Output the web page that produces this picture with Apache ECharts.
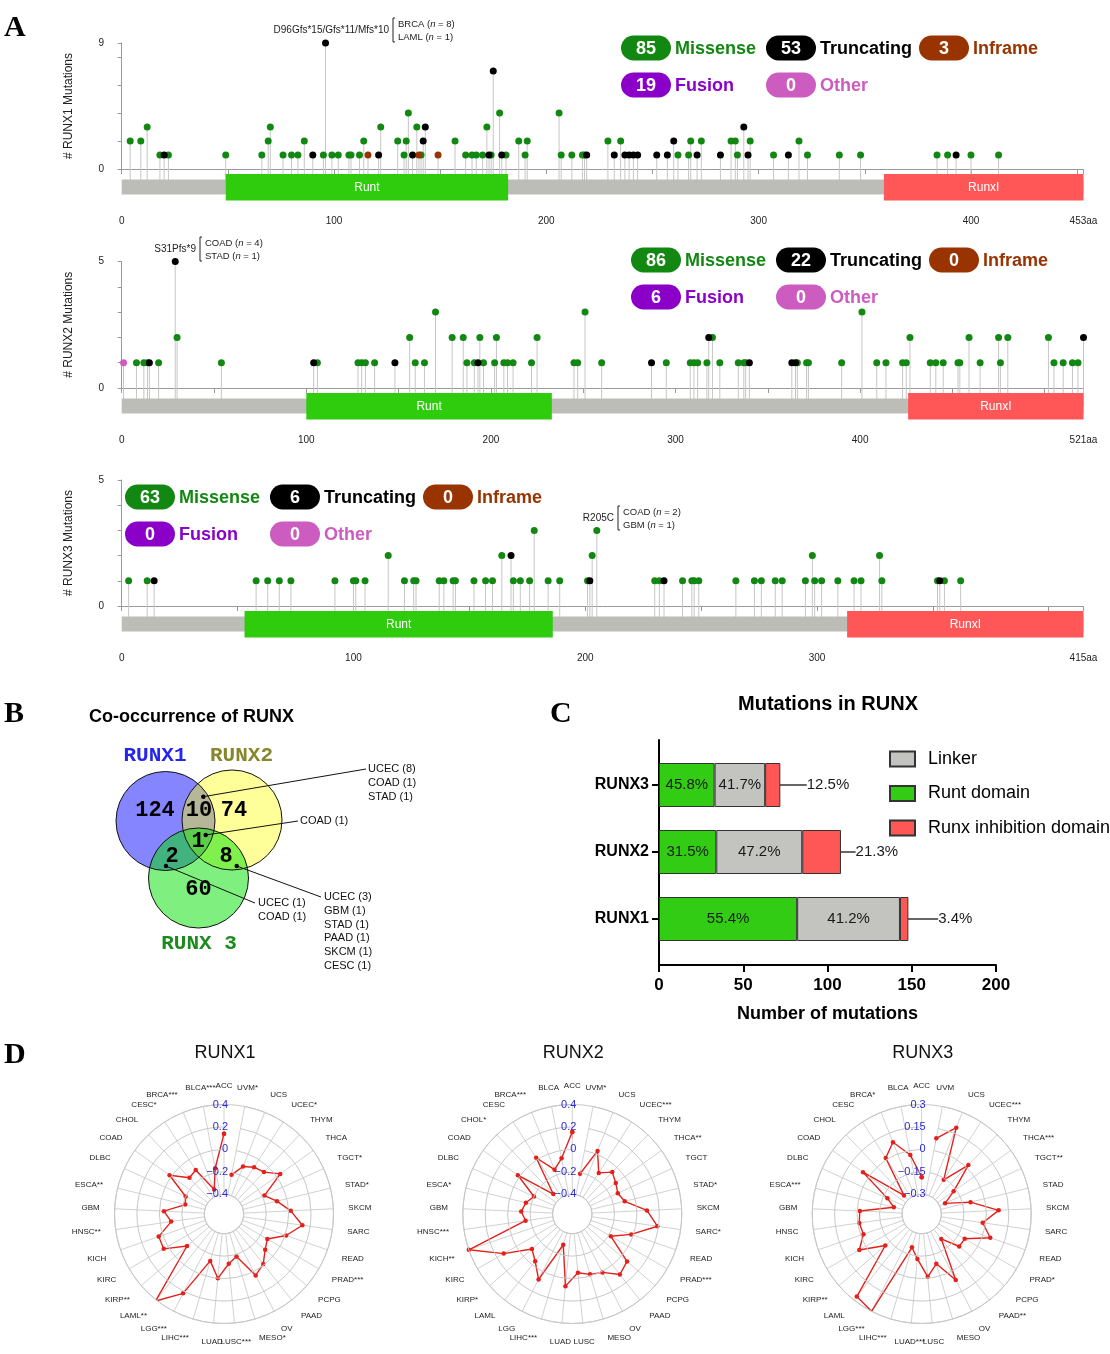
<!DOCTYPE html>
<html><head><meta charset="utf-8">
<script src="https://cdn.jsdelivr.net/npm/echarts@6/dist/echarts.min.js"></script>
<style>html,body{margin:0;padding:0;background:#fff}#c{width:1110px;height:1354px}</style>
</head><body><div id="c"></div>
<script>
// ---------------- DATA ----------------
const proteins = ['RUNX1', 'RUNX2', 'RUNX3'];
const proteinLength = [453, 521, 415];
const runtDomain = [[49, 182], [100, 233], [53, 186]];
const runxIDomain = [[359, 453], [426, 521], [313, 415]];
const countAxisMax = [9, 5, 5];

// [amino-acid position, number of mutations]
const runx1Missense = [[4,2],[9,2],[12,3],[18,1],[22,1],[49,1],[66,1],[69,2],[70,3],[76,1],[80,1],[83,1],[86,2],[95,1],[99,1],[102,1],[107,1],[108,1],[112,1],[114,2],[122,3],[130,2],[133,1],[134,2],[135,4],[139,3],[141,1],[157,2],[162,1],[165,1],[167,1],[170,1],[172,3],[174,1],[178,4],[181,1],[187,2],[190,1],[191,2],[206,4],[207,1],[212,1],[217,1],[218,1],[229,2],[235,2],[262,1],[267,1],[268,2],[273,2],[287,2],[289,2],[290,1],[296,2],[307,1],[319,2],[323,1],[338,1],[348,1],[384,1],[389,1],[400,1],[413,1]];
const runx1Truncating = [[20,1],[90,1],[96,9],[121,1],[137,1],[142,2],[143,3],[173,1],[175,7],[179,1],[219,1],[232,1],[237,1],[239,1],[241,1],[243,1],[252,1],[257,1],[260,2],[271,1],[282,1],[293,3],[295,1],[314,1],[393,1]];
const runx1Inframe = [[116,1],[140,1],[149,1]];
const runx1Other = [];

const runx2Missense = [[8,1],[12,1],[14,1],[20,1],[30,2],[54,1],[106,1],[128,1],[130,1],[132,1],[137,1],[156,2],[159,1],[164,1],[170,3],[179,2],[185,2],[187,1],[191,1],[194,2],[196,1],[202,1],[203,2],[207,1],[209,1],[212,1],[222,1],[225,2],[245,1],[247,1],[251,3],[260,1],[295,1],[308,1],[310,1],[312,1],[317,1],[320,2],[324,1],[334,1],[337,1],[338,1],[366,1],[371,1],[372,1],[390,1],[401,3],[409,1],[414,1],[423,1],[425,1],[427,2],[438,1],[441,1],[445,1],[453,1],[454,1],[459,2],[465,1],[475,2],[476,1],[480,2],[502,2],[505,1],[510,1],[515,1],[518,1]];
const runx2Truncating = [[15,1],[29,5],[104,1],[148,1],[193,1],[287,1],[318,2],[340,1],[363,1],[365,1],[521,2]];
const runx2Inframe = [];
const runx2Other = [[1,1]];

const runx3Missense = [[3,1],[11,1],[58,1],[63,1],[68,1],[73,1],[92,1],[100,1],[101,1],[105,1],[115,2],[122,1],[126,1],[127,1],[137,1],[139,1],[143,1],[144,1],[152,1],[157,1],[160,1],[164,2],[169,1],[172,1],[176,1],[178,3],[184,1],[189,1],[201,1],[203,2],[205,3],[230,1],[232,1],[242,1],[246,1],[247,1],[249,1],[265,1],[273,1],[276,1],[282,1],[285,1],[295,1],[298,2],[299,1],[302,1],[309,1],[316,1],[319,1],[327,2],[328,1],[352,1],[355,1],[362,1]];
const runx3Truncating = [[14,1],[168,2],[202,1],[234,1],[353,1]];
const runx3Inframe = [];
const runx3Other = [];

const badgeTypes = ['Missense', 'Truncating', 'Inframe', 'Fusion', 'Other'];
const runx1BadgeCounts = [85, 53, 3, 19, 0];
const runx2BadgeCounts = [86, 22, 0, 6, 0];
const runx3BadgeCounts = [63, 6, 0, 0, 0];

const hotspotLabels = ['D96Gfs*15/Gfs*11/Mfs*10', 'S31Pfs*9', 'R205C'];
const hotspotCancers = [[['BRCA', 8], ['LAML', 1]], [['COAD', 4], ['STAD', 1]], [['COAD', 2], ['GBM', 1]]];

// Venn (panel B)
const vennRegions = ['RUNX1', 'RUNX1&RUNX2', 'RUNX2', 'RUNX1&RUNX2&RUNX3', 'RUNX1&RUNX3', 'RUNX2&RUNX3', 'RUNX3'];
const vennCounts = [124, 10, 74, 1, 2, 8, 60];
const vennNotes12 = ['UCEC (8)', 'COAD (1)', 'STAD (1)'];
const vennNotes123 = ['COAD (1)'];
const vennNotes13 = ['UCEC (1)', 'COAD (1)'];
const vennNotes23 = ['UCEC (3)', 'GBM (1)', 'STAD (1)', 'PAAD (1)', 'SKCM (1)', 'CESC (1)'];

// Bar chart (panel C)
const barCategories = ['RUNX1', 'RUNX2', 'RUNX3'];
const runtCounts = [82, 34, 33];
const linkerCounts = [61, 51, 30];
const runxICounts = [5, 23, 9];

// Radar (panel D)
const cancerTypes = ['ACC','BLCA','BRCA','CESC','CHOL','COAD','DLBC','ESCA','GBM','HNSC','KICH','KIRC','KIRP','LAML','LGG','LIHC','LUAD','LUSC','MESO','OV','PAAD','PCPG','PRAD','READ','SARC','SKCM','STAD','TGCT','THCA','THYM','UCEC','UCS','UVM'];
const runx1Stars = ['','***','***','*','','','','**','','**','','','**','**','***','***','','***','*','','','','***','','','','*','*','','','*','','*'];
const runx2Stars = ['','','***','','*','','','*','','***','**','','*','','','***','','','','','','','***','','*','','*','','**','','***','','*'];
const runx3Stars = ['','','*','','','','','***','','','','','**','','***','***','***','','','','**','','*','','','','','**','***','','***','',''];
const runx1Corr = [0.14,-0.16,-0.34,-0.11,-0.13,0.02,-0.20,-0.22,-0.04,-0.10,0.04,0.045,-0.14,0.41,0.22,-0.14,0.0,-0.13,-0.18,0.04,-0.01,-0.09,-0.13,0.01,0.13,0.02,-0.09,-0.18,0.04,-0.06,-0.08,-0.12,-0.22];
const runx2Corr = [0.155,-0.07,-0.15,0.02,-0.33,0.02,-0.20,-0.15,-0.12,-0.155,0.40,0.13,-0.10,-0.04,0.08,-0.29,0.07,-0.05,-0.015,0.01,0.11,0.07,-0.18,-0.02,0.19,0.09,-0.095,-0.13,-0.10,-0.06,-0.14,0.03,-0.21];
const runx3Corr = [-0.186,-0.03,0.085,0.013,-0.26,0.05,-0.18,-0.24,-0.018,-0.01,-0.02,0.05,-0.11,0.27,0.30,-0.20,-0.13,-0.01,-0.085,0.065,-0.22,-0.10,-0.10,0.053,-0.02,0.083,-0.096,-0.26,-0.17,0.02,-0.16,0.19,0.083];
const radarRange = [[-0.4, 0.4, 0.2], [-0.4, 0.4, 0.2], [-0.3, 0.3, 0.15]];

// ---------------- STYLE / LAYOUT ----------------
const SANS = '"Liberation Sans", Arial, Helvetica, sans-serif';
const SERIF = '"Liberation Serif", "Times New Roman", serif';
const MONO = '"Liberation Mono", "Courier New", monospace';
const typeColors = ['#128812', '#000000', '#993300', '#8a00c8', '#cc5cbf'];
const lolliLayout = [
  {top: 43, height: 126, badgeX: 621, badgeY: 48},
  {top: 261.5, height: 126.5, badgeX: 631, badgeY: 260},
  {top: 480, height: 126, badgeX: 125, badgeY: 497}
];
const mutSets = [
  [runx1Missense, runx1Truncating, runx1Inframe, runx1Other],
  [runx2Missense, runx2Truncating, runx2Inframe, runx2Other],
  [runx3Missense, runx3Truncating, runx3Inframe, runx3Other]
];
const badgeSets = [runx1BadgeCounts, runx2BadgeCounts, runx3BadgeCounts];

const grid = [], xAxis = [], yAxis = [], series = [], graphic = [];

proteins.forEach(function (name, k) {
  const L = proteinLength[k], lay = lolliLayout[k];
  grid.push({left: 121.7, width: 961.8, top: lay.top, height: lay.height});
  const ticks = [];
  for (let v = 0; v < L; v += 50) ticks.push(v);
  ticks.push(L);
  const labels = [];
  for (let v = 0; v < L - 40; v += 100) labels.push(v);
  labels.push(L);
  xAxis.push({gridIndex: k, type: 'value', min: 0, max: L, position: 'bottom', offset: 37,
    axisLine: {lineStyle: {color: '#9a9a9a', width: 1}},
    axisTick: {customValues: ticks, length: 5, lineStyle: {color: '#9a9a9a'}},
    axisLabel: {customValues: labels, fontSize: 10, color: '#222', fontFamily: SANS, margin: 10,
      formatter: function (v) { return v === L ? v + 'aa' : String(v); }},
    splitLine: {show: false}});
  const M = countAxisMax[k];
  const yt = [];
  if (M === 9) { yt.push(0, 2, 4, 6, 8, 9); } else { for (let v = 0; v <= M; v++) yt.push(v); }
  yAxis.push({gridIndex: k, type: 'value', min: 0, max: M, offset: 11.7,
    name: '# ' + name + ' Mutations', nameLocation: 'middle', nameGap: 35,
    nameTextStyle: {fontSize: 12, color: '#222', fontFamily: SANS},
    axisLine: {show: true, lineStyle: {color: '#9a9a9a'}},
    axisTick: {show: true, customValues: yt, length: 4, lineStyle: {color: '#9a9a9a'}},
    axisLabel: {customValues: [0, M], fontSize: 10, color: '#222', fontFamily: SANS, margin: 6},
    splitLine: {show: false}});

  const all = [].concat(mutSets[k][0], mutSets[k][1], mutSets[k][2], mutSets[k][3]);
  series.push({type: 'custom', xAxisIndex: k, yAxisIndex: k, clip: false, z: 1, silent: true,
    data: all,
    renderItem: function (params, api) {
      const p = api.coord([api.value(0), api.value(1)]);
      const b = api.coord([api.value(0), 0]);
      return {type: 'line', shape: {x1: p[0], y1: b[1] + 18, x2: p[0], y2: p[1]},
        style: {stroke: '#c6c6c6', lineWidth: 1}};
    }});
  const domains = [[0, L, 0], [runtDomain[k][0], runtDomain[k][1], 1], [runxIDomain[k][0], runxIDomain[k][1], 2]];
  series.push({type: 'custom', xAxisIndex: k, yAxisIndex: k, clip: false, z: 2, silent: true,
    data: domains, encode: {x: [0, 1]},
    renderItem: function (params, api) {
      const s = api.coord([api.value(0), 0]);
      const e = api.coord([api.value(1), 0]);
      const kind = api.value(2);
      if (kind === 0) {
        return {type: 'rect', shape: {x: s[0], y: s[1] + 10.5, width: e[0] - s[0], height: 15},
          style: {fill: '#bdbdb8'}};
      }
      return {type: 'group', children: [
        {type: 'rect', shape: {x: s[0], y: s[1] + 5, width: e[0] - s[0], height: 26.5},
          style: {fill: kind === 1 ? '#2ecc0c' : '#ff5757'}},
        {type: 'text', x: (s[0] + e[0]) / 2, y: s[1] + 18.5,
          style: {text: kind === 1 ? 'Runt' : 'RunxI', fill: '#fff', font: '12px ' + SANS,
            align: 'center', verticalAlign: 'middle'}}
      ]};
    }});
  ['Missense', 'Truncating', 'Inframe', 'Other'].forEach(function (t, j) {
    const ci = j === 3 ? 4 : j;
    series.push({type: 'scatter', name: name + ' ' + t, xAxisIndex: k, yAxisIndex: k,
      data: mutSets[k][j], symbolSize: 7, z: 3, silent: true,
      itemStyle: {color: typeColors[ci], opacity: 1}});
  });

  // badges
  const cols = [0, 145, 298];
  badgeTypes.forEach(function (t, j) {
    const row = j < 3 ? 0 : 1;
    const col = j < 3 ? j : j - 3;
    const x = lay.badgeX + cols[col];
    const y = lay.badgeY + row * 37;
    graphic.push({type: 'rect', shape: {x: x, y: y - 12.5, width: 50, height: 25, r: 12.5},
      style: {fill: typeColors[j]}});
    graphic.push({type: 'text', x: x + 25, y: y + 1, style: {text: String(badgeSets[k][j]),
      fill: '#fff', font: 'bold 18px ' + SANS, align: 'center', verticalAlign: 'middle'}});
    graphic.push({type: 'text', x: x + 54, y: y + 1, style: {text: t,
      fill: typeColors[j], font: 'bold 18px ' + SANS, align: 'left', verticalAlign: 'middle'}});
  });
});

// hotspot annotations
const hotspotPos = [{x: 389, y: 30}, {x: 196, y: 249}, {x: 614, y: 518}];
hotspotLabels.forEach(function (lab, k) {
  const p = hotspotPos[k];
  graphic.push({type: 'text', x: p.x, y: p.y, style: {text: lab, fill: '#222', font: '10px ' + SANS,
    align: 'right', verticalAlign: 'middle'}});
  graphic.push({type: 'polyline', shape: {points: [[p.x + 6, p.y - 12], [p.x + 4, p.y - 12], [p.x + 4, p.y + 12], [p.x + 6, p.y + 12]]},
    style: {stroke: '#222', lineWidth: 1, fill: null}});
  hotspotCancers[k].forEach(function (c, i) {
    graphic.push({type: 'text', x: p.x + 9, y: p.y - 6 + i * 13, style: {
      text: '{a|' + c[0] + ' (}{i|n}{a| = ' + c[1] + ')}',
      rich: {a: {font: '9.5px ' + SANS, fill: '#222'}, i: {font: 'italic 9.5px ' + SANS, fill: '#222'}},
      verticalAlign: 'middle'}});
  });
});

// ---------------- Panel C (bar) ----------------
grid.push({left: 659, width: 337, top: 751.5, height: 201}); // 3
grid.push({left: 659, width: 337, top: 740, height: 225});   // 4
xAxis.push({gridIndex: 3, type: 'value', min: 0, max: 200, show: false});
yAxis.push({gridIndex: 3, type: 'category', data: barCategories,
  axisLine: {show: false}, axisTick: {show: true, alignWithLabel: true, length: 7, lineStyle: {color: '#000', width: 2}},
  axisLabel: {fontSize: 16, fontWeight: 'bold', color: '#000', fontFamily: SANS, margin: 10}});
xAxis.push({gridIndex: 4, type: 'value', min: 0, max: 200, interval: 50,
  name: 'Number of mutations', nameLocation: 'middle', nameGap: 40,
  nameTextStyle: {fontSize: 18, fontWeight: 'bold', color: '#000', fontFamily: SANS},
  axisLine: {lineStyle: {color: '#000', width: 2}},
  axisTick: {length: 7, lineStyle: {color: '#000', width: 2}},
  axisLabel: {fontSize: 17, fontWeight: 'bold', color: '#000', fontFamily: SANS, margin: 12},
  splitLine: {show: false}});
yAxis.push({gridIndex: 4, type: 'value', min: 0, max: 1,
  axisLine: {show: true, lineStyle: {color: '#000', width: 2}}, axisTick: {show: false},
  axisLabel: {show: false}, splitLine: {show: false}});

function pctFormatter() {
  return function (p) {
    const i = p.dataIndex;
    const tot = runtCounts[i] + linkerCounts[i] + runxICounts[i];
    return (p.value / tot * 100).toFixed(1) + '%';
  };
}
const barLabel = {show: true, position: 'inside', fontSize: 15, color: '#1a1a1a', fontFamily: SANS};
series.push({type: 'bar', name: 'Runt domain', xAxisIndex: 3, yAxisIndex: 3, stack: 'd', barWidth: 44,
  data: runtCounts, itemStyle: {color: '#33cc14', borderColor: '#333', borderWidth: 1},
  label: Object.assign({}, barLabel, {formatter: pctFormatter()})});
series.push({type: 'bar', name: 'Linker', xAxisIndex: 3, yAxisIndex: 3, stack: 'd', barWidth: 44,
  data: linkerCounts, itemStyle: {color: '#c3c3c0', borderColor: '#333', borderWidth: 1},
  label: Object.assign({}, barLabel, {formatter: pctFormatter()})});
series.push({type: 'bar', name: 'Runx inhibition domain', xAxisIndex: 3, yAxisIndex: 3, stack: 'd', barWidth: 44,
  data: runxICounts, itemStyle: {color: '#ff5656', borderColor: '#333', borderWidth: 1},
  label: Object.assign({}, barLabel, {formatter: pctFormatter()}),
  labelLayout: function (p) {
    return {x: p.rect.x + p.rect.width / 2 + 34, y: p.rect.y + p.rect.height / 2, align: 'left', verticalAlign: 'middle'};
  },
  labelLine: {show: true, lineStyle: {color: '#000', width: 1.2}}});

// ---------------- Panel D (radars) ----------------
const polar = [], angleAxis = [], radiusAxis = [];
const radarCx = [224, 572.3, 921.7];
const starSets = [runx1Stars, runx2Stars, runx3Stars];
const corrSets = [runx1Corr, runx2Corr, runx3Corr];
proteins.forEach(function (name, k) {
  polar.push({center: [radarCx[k], 1214], radius: [19.7, 109.5]});
  angleAxis.push({polarIndex: k, type: 'category', data: cancerTypes.map(function (c, i) { return c + starSets[k][i]; }),
    startAngle: 90, clockwise: false, boundaryGap: false,
    axisLine: {show: true, lineStyle: {color: '#c8c8c8', width: 1}},
    axisTick: {show: false},
    axisLabel: {interval: 0, fontSize: 8, color: '#222', fontFamily: SANS, margin: 15},
    splitLine: {show: true, lineStyle: {color: '#d2d2d2', width: 1}}});
  const r = radarRange[k];
  radiusAxis.push({polarIndex: k, type: 'value', min: r[0], max: r[1], interval: r[2],
    axisLine: {show: false}, axisTick: {show: false},
    axisLabel: {fontSize: 11, color: '#2a2ad6', fontFamily: SANS, margin: -4,
      formatter: function (v) { const s = String(Math.round(v * 100) / 100); return s.replace('-', '\u2212'); }},
    splitLine: {show: true, lineStyle: {color: '#c8c8c8', width: 1}}, z: 10});
  const pts = corrSets[k].map(function (v, i) { return [v, i]; });
  pts.push([corrSets[k][0], 0]);
  series.push({type: 'line', coordinateSystem: 'polar', polarIndex: k, data: pts,
    symbol: 'circle', symbolSize: 4.5, showSymbol: true, silent: true,
    lineStyle: {color: '#e3201b', width: 1.4}, itemStyle: {color: '#e3201b'}});
  graphic.push({type: 'text', x: radarCx[k] + 1, y: 1053, style: {text: name, fill: '#111',
    font: '18px ' + SANS, align: 'center', verticalAlign: 'middle'}});
});

// ---------------- Panel B (Venn) ----------------
const vennCircles = [
  {cx: 165.5, cy: 821, r: 49.5, fill: 'rgba(0,0,255,0.48)'},
  {cx: 232, cy: 820, r: 50, fill: 'rgba(255,255,0,0.40)'},
  {cx: 198.5, cy: 878, r: 50, fill: 'rgba(0,225,0,0.50)'}
];
vennCircles.forEach(function (c) {
  graphic.push({type: 'circle', shape: {cx: c.cx, cy: c.cy, r: c.r}, style: {fill: c.fill}});
});
vennCircles.forEach(function (c) {
  graphic.push({type: 'circle', shape: {cx: c.cx, cy: c.cy, r: c.r}, style: {fill: null, stroke: '#111', lineWidth: 1}});
});
const vennTextPos = [[155, 810], [199, 810], [234, 810], [198, 841], [172, 856], [226, 856], [198.5, 889]];
vennCounts.forEach(function (v, i) {
  graphic.push({type: 'text', x: vennTextPos[i][0], y: vennTextPos[i][1], style: {text: String(v),
    fill: '#000', font: 'bold 22px ' + MONO, align: 'center', verticalAlign: 'middle'}});
});
graphic.push({type: 'text', x: 155, y: 756, style: {text: 'RUNX1', fill: '#2525ee', font: 'bold 21px ' + MONO, align: 'center', verticalAlign: 'middle'}});
graphic.push({type: 'text', x: 241.5, y: 756, style: {text: 'RUNX2', fill: '#86862a', font: 'bold 21px ' + MONO, align: 'center', verticalAlign: 'middle'}});
graphic.push({type: 'text', x: 199, y: 944, style: {text: 'RUNX 3', fill: '#1c8a1c', font: 'bold 21px ' + MONO, align: 'center', verticalAlign: 'middle'}});
const leaders = [
  {from: [203.3, 796.7], to: [366, 769], notes: vennNotes12, tx: 368},
  {from: [205.7, 835], to: [298, 821], notes: vennNotes123, tx: 300},
  {from: [166, 866], to: [255, 903], notes: vennNotes13, tx: 258},
  {from: [236.7, 866], to: [321, 897], notes: vennNotes23, tx: 324}
];
leaders.forEach(function (ld) {
  graphic.push({type: 'line', shape: {x1: ld.from[0], y1: ld.from[1], x2: ld.to[0], y2: ld.to[1]}, style: {stroke: '#111', lineWidth: 1}});
  graphic.push({type: 'circle', shape: {cx: ld.from[0], cy: ld.from[1], r: 2.2}, style: {fill: '#000'}});
  ld.notes.forEach(function (n, i) {
    graphic.push({type: 'text', x: ld.tx, y: ld.to[1] + i * 13.8, style: {text: n, fill: '#111',
      font: '11px ' + SANS, align: 'left', verticalAlign: 'middle'}});
  });
});
graphic.push({type: 'text', x: 89, y: 717, style: {text: 'Co-occurrence of RUNX', fill: '#000',
  font: 'bold 18px ' + SANS, align: 'left', verticalAlign: 'middle'}});
graphic.push({type: 'text', x: 828, y: 704, style: {text: 'Mutations in RUNX', fill: '#000',
  font: 'bold 20px ' + SANS, align: 'center', verticalAlign: 'middle'}});

// panel letters
[['A', 4, 28], ['B', 4, 714], ['C', 550, 714], ['D', 4, 1055]].forEach(function (l) {
  graphic.push({type: 'text', x: l[1], y: l[2], style: {text: l[0], fill: '#000',
    font: 'bold 30px ' + SERIF, align: 'left', verticalAlign: 'middle'}});
});

const chart = echarts.init(document.getElementById('c'), null, {renderer: 'canvas'});
chart.setOption({
  animation: false,
  backgroundColor: '#fff',
  grid: grid, xAxis: xAxis, yAxis: yAxis,
  polar: polar, angleAxis: angleAxis, radiusAxis: radiusAxis,
  legend: {data: ['Linker', 'Runt domain', 'Runx inhibition domain'], orient: 'vertical', left: 884, top: 745,
    itemWidth: 25, itemHeight: 15, itemGap: 16.5, icon: 'rect', selectedMode: false,
    textStyle: {fontSize: 18, color: '#000', fontFamily: SANS, padding: [0, 0, 0, 8]}},
  series: series,
  graphic: {elements: graphic}
});
</script>
</body></html>
